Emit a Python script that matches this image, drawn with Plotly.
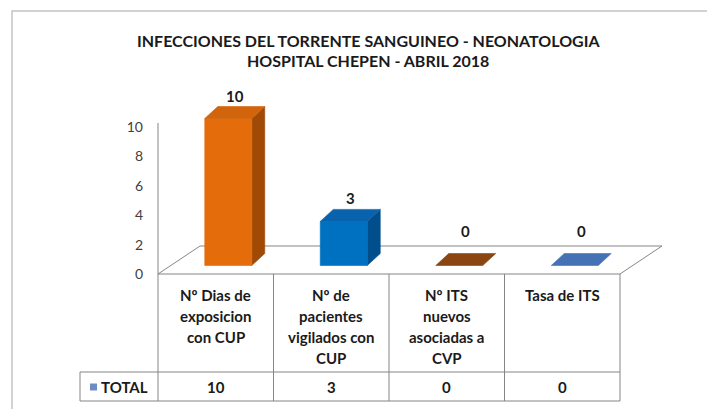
import plotly.graph_objects as go

# ---------------- data ----------------
title_lines = ["INFECCIONES DEL TORRENTE SANGUINEO - NEONATOLOGIA",
               "HOSPITAL CHEPEN - ABRIL 2018"]
categories = ["Nº Dias de<br>exposicion<br>con CUP",
              "Nº de<br>pacientes<br>vigilados con<br>CUP",
              "Nº ITS<br>nuevos<br>asociadas a<br>CVP",
              "Tasa de ITS"]
series_name = "TOTAL"
values = [10, 3, 0, 0]
y_ticks = [0, 2, 4, 6, 8, 10]

# ---------------- styles ----------------
front_colors = ["#E46C0A", "#0070C0", "#A0520F", "#4F81BD"]
top_colors = ["#D2640C", "#0862AC", "#8A4510", "#4472B4"]
side_colors = ["#A04A06", "#004E8C", "#6E3608", "#36598A"]
FONT = "Lato, 'Open Sans', 'DejaVu Sans', sans-serif"
TXT = "#1a1a1a"
W, H = 707, 409

# pixel geometry of the plotting frame
X_PX0 = 158.0      # pixel of left edge of first category
CAT_PX = 115.5     # pixels per category
Y_PX0 = 274.0      # pixel of value 0
UNIT_PX = 14.7     # pixels per value unit


def dx(px):
    return px / CAT_PX


def dy(px):
    return px / UNIT_PX


def xpx(p):
    return -0.5 + (p - X_PX0) / CAT_PX


def ypx(p):
    return (Y_PX0 - p) / UNIT_PX


n = len(values)
x_range = [-0.5 - X_PX0 / CAT_PX, -0.5 + (W - X_PX0) / CAT_PX]
y_range = [-(H - Y_PX0) / UNIT_PX, Y_PX0 / UNIT_PX]

fig = go.Figure()

LINE_C = "#858585"


def poly(xs, ys, fill, line_color=None, width=0.6):
    fig.add_trace(go.Scatter(
        x=xs + [xs[0]], y=ys + [ys[0]], mode="lines", fill="toself",
        fillcolor=fill, line=dict(color=line_color or fill, width=width),
        hoverinfo="skip", showlegend=False))


def seg(xs, ys, color=LINE_C, width=1):
    fig.add_trace(go.Scatter(x=xs, y=ys, mode="lines",
                             line=dict(color=color, width=width),
                             hoverinfo="skip", showlegend=False))


# floor
fdx, fdy = dx(42), dy(28)
left, right = -0.5, n - 0.5
seg([left, right], [0, 0])
seg([left, left + fdx, right + fdx, right], [0, fdy, fdy, 0])

# vertical axis line
seg([left, left], [0, ypx(123)])

# bars
shift = dx(12.5)
half_w = dx(23.5)
base = dy(8.5)
bdx, bdy = dx(13), dy(12)
for i, v in enumerate(values):
    c = i + shift
    x0, x1 = c - half_w, c + half_w
    top = base + v
    if v > 0:
        poly([x1, x1 + bdx, x1 + bdx, x1], [base, base + bdy, top + bdy, top], side_colors[i])
        poly([x0, x1, x1, x0], [base, base, top, top], front_colors[i])
    poly([x0, x0 + bdx, x1 + bdx, x1], [top, top + bdy, top + bdy, top], top_colors[i])
    label_y = max(top + dy(23), base + dy(35))
    fig.add_annotation(x=c + bdx / 2, y=label_y, text=f"<b>{v}</b>",
                       showarrow=False, font=dict(family=FONT, size=15, color=TXT))

# data table
y_head_bot = ypx(372)
y_tab_bot = ypx(401)
y_row = ypx(387)
x_key_left = xpx(80)
for k in range(n + 1):
    seg([k - 0.5, k - 0.5], [0, y_tab_bot])
seg([x_key_left, right], [y_head_bot, y_head_bot])
seg([x_key_left, right], [y_tab_bot, y_tab_bot])
seg([x_key_left, x_key_left], [y_head_bot, y_tab_bot])

for i, cat in enumerate(categories):
    for k, line in enumerate(cat.split("<br>")):
        fig.add_annotation(x=i, y=ypx(295 + 21 * k), text=f"<b>{line}</b>",
                           showarrow=False,
                           font=dict(family=FONT, size=15, color=TXT))
    fig.add_annotation(x=i, y=y_row, text=f"<b>{values[i]}</b>", showarrow=False,
                       font=dict(family=FONT, size=15, color=TXT))

# legend key in table
fig.add_trace(go.Scatter(x=[xpx(93.5)], y=[y_row], mode="markers",
                         marker=dict(symbol="square", size=7, color="#6F8CC4"),
                         hoverinfo="skip", showlegend=False))
fig.add_annotation(x=xpx(99), y=y_row, text=f"<b>{series_name}</b>",
                   xanchor="left", showarrow=False,
                   font=dict(family=FONT, size=15, color=TXT))

# title
for k, t in enumerate(title_lines):
    fig.add_annotation(xref="paper", yref="paper", x=368 / W, y=1 - (40 + 20 * k) / H,
                       yanchor="middle", text=f"<b>{t}</b>", showarrow=False,
                       font=dict(family=FONT, size=16, color=TXT))

# outer chart border
fig.add_shape(type="rect", xref="paper", yref="paper",
              x0=12 / W, x1=1.02, y0=-0.02, y1=1 - 11 / H,
              line=dict(color="#C4C4C4", width=1.5), layer="below")

fig.update_layout(
    width=W, height=H,
    margin=dict(l=0, r=0, t=0, b=0),
    paper_bgcolor="white", plot_bgcolor="white",
    xaxis=dict(range=x_range, visible=False, domain=[0, 1], fixedrange=True),
    yaxis=dict(range=y_range, domain=[0, 1], anchor="free", position=X_PX0 / W,
               tickvals=y_ticks, ticktext=[str(t) for t in y_ticks],
               showgrid=False, zeroline=False, showline=False, ticks="",
               ticklabelstandoff=15,
               tickfont=dict(family=FONT, size=14, color="#404040"),
               fixedrange=True),
    showlegend=False,
)

fig.write_html("out.html", config={"displayModeBar": False},
               post_script="document.body.style.margin='0px';")
